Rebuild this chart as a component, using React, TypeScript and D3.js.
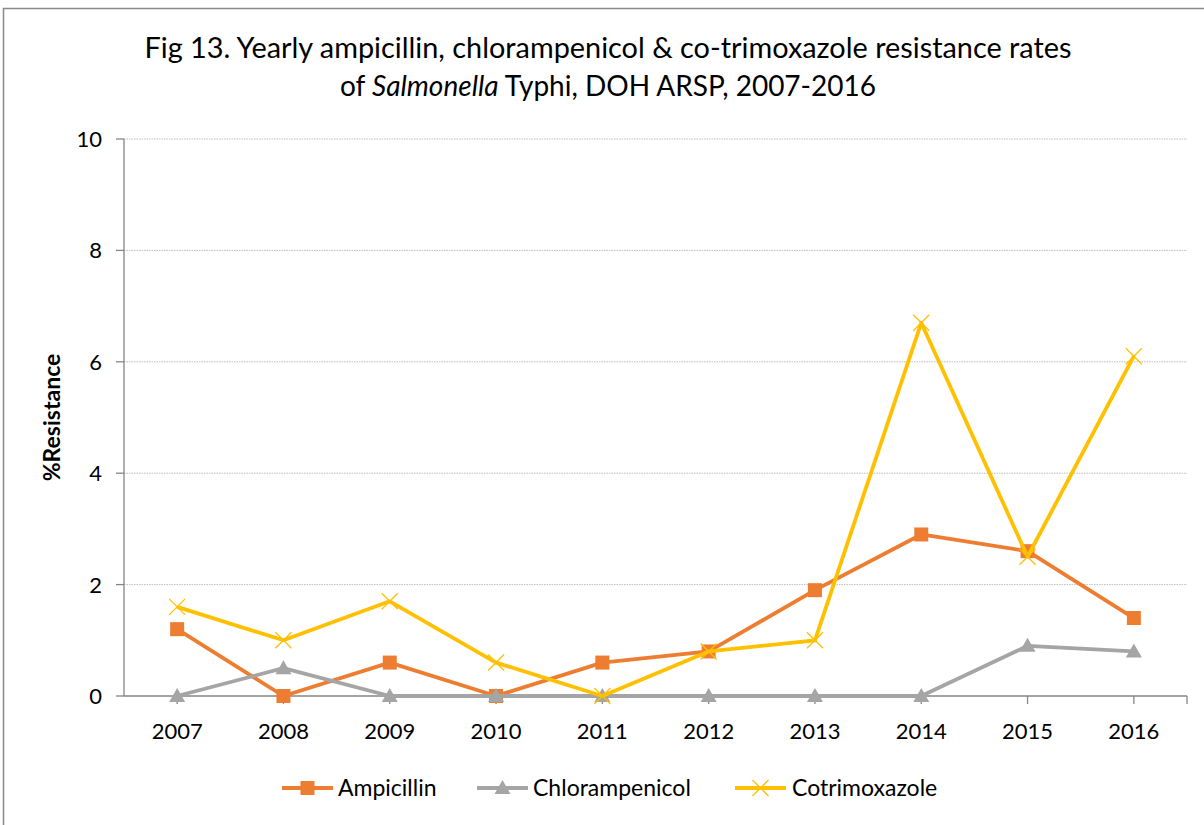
import React from "react";
import * as d3 from "d3";

const years = ["2007", "2008", "2009", "2010", "2011", "2012", "2013", "2014", "2015", "2016"];
const ampicillin = [1.2, 0, 0.6, 0, 0.6, 0.8, 1.9, 2.9, 2.6, 1.4];
const chloramphenicol = [0, 0.5, 0, 0, 0, 0, 0, 0, 0.9, 0.8];
const cotrimoxazole = [1.6, 1.0, 1.7, 0.6, 0, 0.8, 1.0, 6.7, 2.5, 6.1];
const yTicks = [0, 2, 4, 6, 8, 10];

const series = [
  { name: "Ampicillin", values: ampicillin, color: "#ED7D31", marker: "square" },
  { name: "Chlorampenicol", values: chloramphenicol, color: "#A5A5A5", marker: "triangle" },
  { name: "Cotrimoxazole", values: cotrimoxazole, color: "#FFC000", marker: "x" },
];

const W = 1204;
const H = 825;
const plot = { left: 124, right: 1187, top: 139, bottom: 696 };
const font = "Lato, 'Noto Sans', sans-serif";

const Marker = ({ type, x, y, color }: { type: string; x: number; y: number; color: string }) => {
  if (type === "square") {
    return <rect x={x - 7} y={y - 7} width={14} height={14} fill={color} />;
  }
  if (type === "triangle") {
    return <path d={`M${x},${y - 8}L${x + 8},${y + 6}L${x - 8},${y + 6}Z`} fill={color} />;
  }
  return (
    <path
      d={`M${x - 8},${y - 8}L${x + 8},${y + 8}M${x - 8},${y + 8}L${x + 8},${y - 8}`}
      stroke={color}
      strokeWidth={1.3}
      fill="none"
    />
  );
};

export default function App() {
  const x = d3.scalePoint<string>().domain(years).range([plot.left, plot.right]).padding(0.5);
  const y = d3.scaleLinear().domain([0, 10]).range([plot.bottom, plot.top]);

  const line = d3
    .line<number>()
    .x((d, i) => x(years[i]) as number)
    .y((d) => y(d));

  // legend line start and label start
  const legendItems = [
    { lx: 282, tx: 338 },
    { lx: 477, tx: 533 },
    { lx: 735, tx: 792 },
  ];

  return (
    <svg
      width={W}
      height={H}
      style={{ position: "absolute", left: 0, top: 0, background: "#fff" }}
      fontFamily={font}
    >
      <rect x={3.5} y={8.5} width={1300} height={900} fill="#fff" stroke="#898989" strokeWidth={1.5} />

      <text x={608} y={58} textAnchor="middle" fontSize={28} fill="#000" textLength={927} lengthAdjust="spacingAndGlyphs">
        Fig 13. Yearly ampicillin, chlorampenicol &amp; co-trimoxazole resistance rates
      </text>
      <text x={608} y={96} textAnchor="middle" fontSize={28} fill="#000">
        of <tspan fontStyle="italic">Salmonella</tspan> Typhi, DOH ARSP, 2007-2016
      </text>

      {/* gridlines */}
      {yTicks
        .filter((t) => t > 0)
        .map((t) => (
          <line
            key={t}
            x1={plot.left}
            x2={plot.right}
            y1={y(t)}
            y2={y(t)}
            stroke="#BDBDBD"
            strokeWidth={1}
            strokeDasharray="1.5 1"
          />
        ))}

      {/* y axis */}
      <line x1={plot.left} x2={plot.left} y1={plot.top} y2={plot.bottom} stroke="#868686" strokeWidth={1.3} />
      {yTicks.map((t) => (
        <g key={t}>
          <line x1={plot.left - 8} x2={plot.left} y1={y(t)} y2={y(t)} stroke="#868686" strokeWidth={1.3} />
          <text x={102} y={y(t)} dy="0.36em" textAnchor="end" fontSize={22} fill="#000">
            {t}
          </text>
        </g>
      ))}
      <text
        transform={`translate(60, ${(plot.top + plot.bottom) / 2}) rotate(-90)`}
        textAnchor="middle"
        fontSize={23}
        fontWeight="bold"
        fill="#000"
      >
        %Resistance
      </text>

      {/* x axis */}
      <line x1={plot.left} x2={plot.right} y1={plot.bottom} y2={plot.bottom} stroke="#868686" strokeWidth={1.3} />
      {years.map((yr) => (
        <g key={yr}>
          <line x1={x(yr)} x2={x(yr)} y1={plot.bottom} y2={plot.bottom + 8} stroke="#868686" strokeWidth={1.3} />
          <text x={x(yr)} y={739} textAnchor="middle" fontSize={22} fill="#000">
            {yr}
          </text>
        </g>
      ))}
      <line x1={plot.right} x2={plot.right} y1={plot.bottom} y2={plot.bottom + 8} stroke="#868686" strokeWidth={1.3} />

      {/* series */}
      {series.map((s) => (
        <g key={s.name}>
          <path d={line(s.values) || ""} fill="none" stroke={s.color} strokeWidth={3.8} strokeLinejoin="round" />
          {s.values.map((v, i) => (
            <Marker key={i} type={s.marker} x={x(years[i]) as number} y={y(v)} color={s.color} />
          ))}
        </g>
      ))}

      {/* legend */}
      {series.map((s, i) => {
        const it = legendItems[i];
        return (
          <g key={s.name}>
            <line x1={it.lx} x2={it.lx + 51} y1={788} y2={788} stroke={s.color} strokeWidth={3.8} />
            <Marker type={s.marker} x={it.lx + 25.5} y={788} color={s.color} />
            <text x={it.tx} y={788} dy="0.36em" fontSize={23} fill="#000">
              {s.name}
            </text>
          </g>
        );
      })}
    </svg>
  );
}
